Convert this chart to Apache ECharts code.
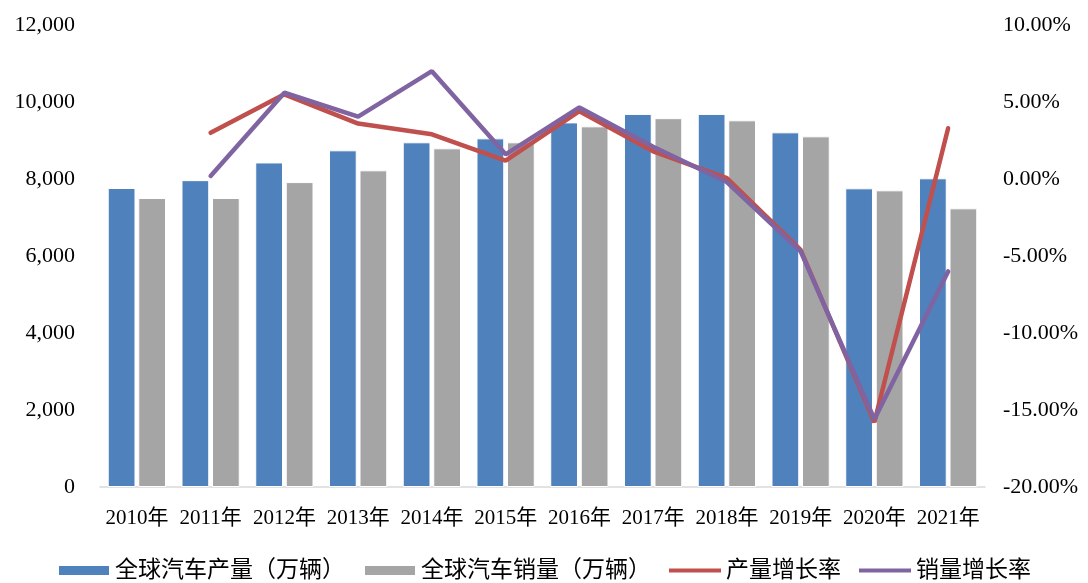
<!DOCTYPE html>
<html>
<head>
<meta charset="utf-8">
<script src="https://cdn.jsdelivr.net/npm/echarts@6/dist/echarts.min.js"></script>
<style>
  html, body { margin: 0; padding: 0; background: #fff; }
  #main { width: 1088px; height: 583px; }
</style>
</head>
<body>
<div id="main"></div>
<script>
var years = ['2010年', '2011年', '2012年', '2013年', '2014年', '2015年', '2016年', '2017年', '2018年', '2019年', '2020年', '2021年'];
// 万辆
var production = [7766, 7970, 8430, 8745, 8953, 9056, 9470, 9690, 9690, 9212, 7758, 8018];
var sales = [7506, 7506, 7920, 8225, 8797, 8953, 9368, 9580, 9524, 9108, 7706, 7238];
// 增长率 %
var prodGrowth = [null, 3.0, 5.5, 3.6, 2.9, 1.2, 4.4, 1.8, 0.05, -4.6, -15.8, 3.3];
var salesGrowth = [null, 0.2, 5.6, 4.05, 7.0, 1.6, 4.65, 2.1, -0.2, -4.7, -15.6, -6.0];

var chart = echarts.init(document.getElementById('main'));
var numFont = 'Liberation Serif';
var cjkFont = '"Liberation Serif", "Noto Sans CJK SC"';
// thin horizontal stroke inside a 50x10 box, for the line legend items
var lineIcon = 'path://M0,0h0.01v0.01h-0.01z M0,3h50v4h-50z M0,10h0.01v0.01h-0.01z';

var option = {
  animation: false,
  color: ['#4F81BD', '#A5A5A5', '#C0504D', '#8064A2'],
  grid: { left: 100, right: 103, top: 25, bottom: 96 },
  legend: {
    top: 554,
    left: 'center',
    itemWidth: 52,
    itemHeight: 11,
    itemGap: 18,
    textStyle: { fontFamily: cjkFont, fontSize: 23, color: '#000' },
    data: [
      { name: '全球汽车产量（万辆）', icon: 'rect' },
      { name: '全球汽车销量（万辆）', icon: 'rect' },
      { name: '产量增长率', icon: lineIcon },
      { name: '销量增长率', icon: lineIcon }
    ]
  },
  xAxis: {
    type: 'category',
    data: years,
    axisLine: { lineStyle: { color: '#d9d9d9', width: 1.5 } },
    axisTick: { show: false },
    axisLabel: { fontFamily: cjkFont, fontSize: 21, color: '#000', margin: 21, interval: 0 }
  },
  yAxis: [
    {
      type: 'value',
      min: 0, max: 12000, interval: 2000,
      splitLine: { show: false },
      axisLine: { show: false },
      axisLabel: {
        fontFamily: numFont, fontSize: 22, color: '#000', margin: 25,
        formatter: function (v) { return v.toLocaleString('en-US'); }
      }
    },
    {
      type: 'value',
      min: -20, max: 10, interval: 5,
      splitLine: { show: false },
      axisLine: { show: false },
      axisLabel: {
        fontFamily: numFont, fontSize: 22, color: '#000', margin: 18,
        formatter: function (v) { return v.toFixed(2) + '%'; }
      }
    }
  ],
  series: [
    {
      name: '全球汽车产量（万辆）', type: 'bar', data: production,
      barGap: '10%', barCategoryGap: '21%',
      itemStyle: { borderColor: '#fff', borderWidth: 1 }
    },
    {
      name: '全球汽车销量（万辆）', type: 'bar', data: sales,
      itemStyle: { borderColor: '#fff', borderWidth: 1 }
    },
    {
      name: '产量增长率', type: 'line', yAxisIndex: 1, data: prodGrowth,
      symbol: 'none', lineStyle: { width: 4.5, cap: 'round' }
    },
    {
      name: '销量增长率', type: 'line', yAxisIndex: 1, data: salesGrowth,
      symbol: 'none', lineStyle: { width: 4.5, cap: 'round' }
    }
  ]
};
chart.setOption(option);
</script>
</body>
</html>
